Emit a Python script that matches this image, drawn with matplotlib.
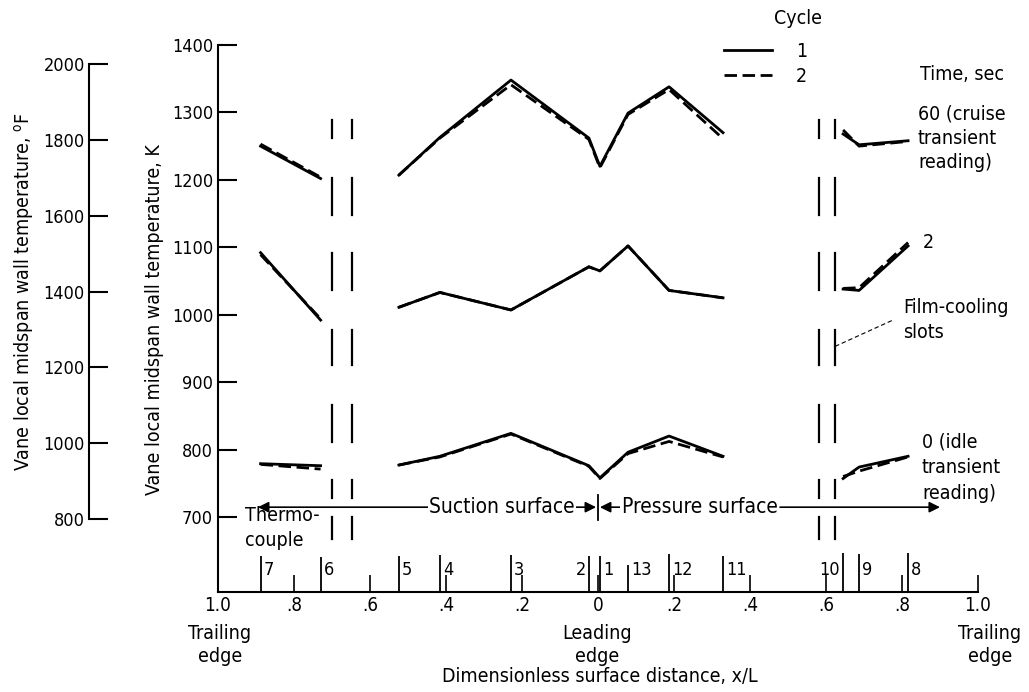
import matplotlib.pyplot as plt

plt.rcParams['font.family'] = ['DejaVu Sans']
plt.rcParams['font.stretch'] = 'condensed'
plt.rcParams['mathtext.fontset'] = 'custom'
plt.rcParams['mathtext.rm'] = 'DejaVu Sans:stretch=condensed'

# thermocouple numbers and positions along the surface (suction side < 0)
tc_num = ['7', '6', '5', '4', '3', '2', '1', '13', '12', '11', '10', '9', '8']
tc_pos = [-0.888, -0.730, -0.524, -0.416, -0.229, -0.024, 0.005,
          0.079, 0.187, 0.329, 0.645, 0.687, 0.816]
tc_top = [642, 640, 642, 644, 644, 642, 642, 629, 645, 642, 646, 645, 646]

# the readings are broken by the film-cooling slots into 3 runs
segments = [[0, 1], [2, 3, 4, 5, 6, 7, 8, 9], [10, 11, 12]]

# wall temperature, K   (time 60 s, 2 s, 0 s ; cycle 1 / cycle 2)
t60_c1 = [1250, 1202, 1207, 1263, 1348, 1262, 1220, 1299, 1338, 1270, 1268, 1252, 1258]
t60_c2 = [1253, 1204, 1207, 1262, 1341, 1260, 1218, 1297, 1334, 1261, 1274, 1250, 1257]
t2_c1 = [1092, 992, 1011, 1033, 1007, 1071, 1065, 1102, 1036, 1025, 1038, 1036, 1102]
t2_c2 = [1089, 994, 1011, 1033, 1007, 1071, 1065, 1102, 1036, 1025, 1039, 1040, 1107]
t0_c1 = [779, 776, 777, 790, 824, 776, 758, 796, 820, 790, 757, 774, 790]
t0_c2 = [778, 771, 777, 789, 823, 775, 757, 794, 812, 789, 760, 768, 789]

x_ticks = [-1.0, -0.8, -0.6, -0.4, -0.2, 0.0, 0.2, 0.4, 0.6, 0.8, 1.0]
x_ticklabels = ['1.0', '.8', '.6', '.4', '.2', '0', '.2', '.4', '.6', '.8', '1.0']
k_ticks = [700, 800, 900, 1000, 1100, 1200, 1300, 1400]
f_ticks = [800, 1000, 1200, 1400, 1600, 1800, 2000]

# film-cooling slot marks (dashed verticals)
slot_pos = [-0.700, -0.647, 0.582, 0.624]
slot_dash_top = [1289, 1203, 1091, 977, 866, 755, 700]
slot_dash_bot = [1262, 1148, 1036, 925, 811, 728, 668]

W, H = 1029, 692
fig = plt.figure(figsize=(W / 100, H / 100), dpi=100)


def fx(x):
    return x / W


def fy(y):
    return 1 - y / H


ax = fig.add_axes([fx(218), fy(592), 760 / W, 547 / H])
ax.set_xlim(-1, 1)
ax.set_ylim(588.7, 1400)
ax.spines['top'].set_visible(False)
ax.spines['right'].set_visible(False)
ax.spines['left'].set_linewidth(1.5)
ax.spines['bottom'].set_linewidth(1.5)
ax.set_yticks(k_ticks)
ax.tick_params(axis='y', direction='in', length=13.5, width=1.5, pad=3.5, labelsize=13)
ax.set_xticks(x_ticks, x_ticklabels)
ax.tick_params(axis='x', direction='in', length=12, width=1.2, pad=3, labelsize=13.5)

# degrees F scale
axf = fig.add_axes([fx(89), fy(592), 0.02, 547 / H])
axf.patch.set_visible(False)
axf.set_ylim(607.5, 2050.1)
for sp in ['top', 'right', 'bottom']:
    axf.spines[sp].set_visible(False)
axf.spines['left'].set_linewidth(1.5)
axf.spines['left'].set_bounds(800, 2000)
axf.set_xticks([])
axf.set_yticks(f_ticks)
axf.tick_params(axis='y', direction='in', length=13.5, width=1.5, pad=3, labelsize=13)

fig.text(fx(24), fy(291), 'Vane local midspan wall temperature, $^{\\mathrm{o}}\\mathrm{F}$',
         rotation=90, ha='center', va='center', fontsize=14)
fig.text(fx(155), fy(320), 'Vane local midspan wall temperature, K',
         rotation=90, ha='center', va='center', fontsize=14)

# data
for c1, c2 in [(t60_c1, t60_c2), (t2_c1, t2_c2), (t0_c1, t0_c2)]:
    for seg in segments:
        xs = [tc_pos[i] for i in seg]
        l1, = ax.plot(xs, [c1[i] for i in seg], color='black', lw=2)
        l2, = ax.plot(xs, [c2[i] for i in seg], color='black', lw=2, dashes=[4.5, 2])

ax.legend([l1, l2], ['1', '2'], frameon=False,
          loc='upper left', bbox_to_anchor=(fx(714), fy(32)), bbox_transform=fig.transFigure,
          borderpad=0, handlelength=2.5, handletextpad=1.2, labelspacing=0.3,
          fontsize=14)
fig.text(fx(798), fy(18), 'Cycle', ha='center', va='center', fontsize=14)

# film-cooling slots
for sx in slot_pos:
    for top, bot in zip(slot_dash_top, slot_dash_bot):
        ax.plot([sx, sx], [bot, top], color='black', lw=1.6)
ax.plot([0.624, 0.776], [953, 992], color='black', lw=0.8, dashes=[4, 2.5], clip_on=False)

# thermocouple marks
ax.vlines(tc_pos, 588.7, tc_top, color='black', lw=1.3)
for num, pos in zip(tc_num, tc_pos):
    if num in ('2', '10'):
        ax.text(pos - 0.008, 622, num, ha='right', va='center', fontsize=13)
    else:
        ax.text(pos + 0.008, 622, num, ha='left', va='center', fontsize=13)

# surface arrows
arr = dict(arrowstyle='-|>', lw=1.2, color='black', mutation_scale=16, shrinkA=0, shrinkB=0)
ax.annotate('', xy=(-0.895, 714.5), xytext=(-0.43, 714.5), arrowprops=arr)
ax.annotate('', xy=(-0.005, 714.5), xytext=(-0.076, 714.5), arrowprops=arr)
ax.annotate('', xy=(0.005, 714.5), xytext=(0.071, 714.5), arrowprops=arr)
ax.annotate('', xy=(0.90, 714.5), xytext=(0.479, 714.5), arrowprops=arr, annotation_clip=False)
ax.plot([0, 0], [695, 732], color='black', lw=1.3)
ax.text(-0.253, 714.5, 'Suction surface', ha='center', va='center', fontsize=15,
        bbox=dict(fc='white', ec='none', pad=1))
ax.text(0.268, 714.5, 'Pressure surface', ha='center', va='center', fontsize=15,
        bbox=dict(fc='white', ec='none', pad=1))
fig.text(fx(245), fy(506), 'Thermo-\ncouple', ha='left', va='top', fontsize=14,
         linespacing=1.4)

# right hand labels
fig.text(fx(920), fy(75), 'Time, sec', ha='left', va='center', fontsize=14)
fig.text(fx(918), fy(105), '60 (cruise\ntransient\nreading)', ha='left', va='top',
         fontsize=14, linespacing=1.32)
fig.text(fx(923), fy(243), '2', ha='left', va='center', fontsize=14)
fig.text(fx(903), fy(298), 'Film-cooling\nslots', ha='left', va='top', fontsize=14,
         linespacing=1.4)
fig.text(fx(922), fy(432), '0 (idle\ntransient\nreading)', ha='left', va='top',
         fontsize=14, linespacing=1.46)

# bottom captions
fig.text(fx(220), fy(624), 'Trailing\nedge', ha='center', va='top', fontsize=14, linespacing=1.28)
fig.text(fx(597), fy(624), 'Leading\nedge', ha='center', va='top', fontsize=14, linespacing=1.28)
fig.text(fx(990), fy(624), 'Trailing\nedge', ha='center', va='top', fontsize=14, linespacing=1.28)
fig.text(fx(600), fy(677), 'Dimensionless surface distance, x/L', ha='center', va='center',
         fontsize=14)

fig.savefig('out.png', dpi=100)
